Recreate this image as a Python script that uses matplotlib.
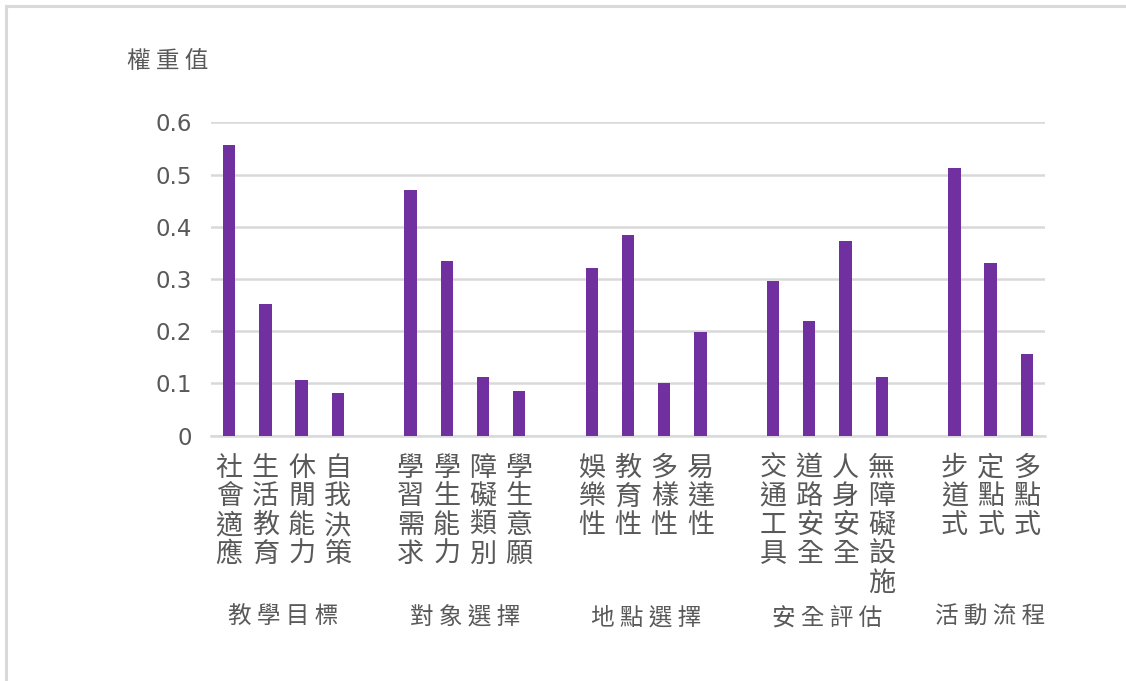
import numpy as np
import matplotlib.pyplot as plt
from matplotlib.lines import Line2D

plt.rcParams['font.family'] = ['Noto Sans CJK TC', 'DejaVu Sans']

groups = ['教學目標', '對象選擇', '地點選擇', '安全評估', '活動流程']
items = [
    ['社會適應', '生活教育', '休閒能力', '自我決策'],
    ['學習需求', '學生能力', '障礙類別', '學生意願'],
    ['娛樂性', '教育性', '多樣性', '易達性'],
    ['交通工具', '道路安全', '人身安全', '無障礙設施'],
    ['步道式', '定點式', '多點式'],
]
values = [
    [0.557, 0.253, 0.106, 0.081],
    [0.470, 0.334, 0.112, 0.086],
    [0.322, 0.384, 0.100, 0.199],
    [0.297, 0.219, 0.372, 0.112],
    [0.513, 0.331, 0.156],
]
yticks = [0, 0.1, 0.2, 0.3, 0.4, 0.5, 0.6]
ylabel = '權重值'

bar_color = '#7030A0'
grid_color = '#D9D9D9'
text_color = '#595959'

fig = plt.figure(figsize=(11.26, 6.81), dpi=100)
ax = fig.add_axes([211 / 1126, 1 - 435.7 / 681, 834 / 1126, 313.4 / 681])

# positions: one empty slot between groups
xs, hs, labs, centers = [], [], [], []
pos = 0
for g, (names, vals) in enumerate(zip(items, values)):
    gx = []
    for n, v in zip(names, vals):
        xs.append(pos)
        hs.append(v)
        labs.append(n)
        gx.append(pos)
        pos += 1
    centers.append(np.mean(gx))
    pos += 1
nslots = pos - 1

ax.bar(xs, hs, width=0.34, color=bar_color, zorder=3)
ax.set_xlim(-0.5, nslots - 0.5)
ax.set_ylim(0, 0.6)
ax.set_yticks(yticks)
ax.set_yticklabels(['0' if t == 0 else f'{t:.1f}' for t in yticks],
                   fontsize=16.5, color=text_color, family='DejaVu Sans')
ax.tick_params(axis='y', length=0, pad=14)
ax.set_xticks([])
ax.grid(axis='y', color=grid_color, linewidth=1.8, zorder=0)
ax.set_axisbelow(True)
for s in ax.spines.values():
    s.set_visible(False)
ax.axhline(0, color=grid_color, linewidth=1.8, zorder=1, clip_on=False)

for x, n in zip(xs, labs):
    ax.annotate('\n'.join(n), xy=(x, 0), xycoords=('data', 'axes fraction'),
                xytext=(0, -19), textcoords='offset pixels',
                ha='center', va='top', fontsize=19.5, color=text_color,
                linespacing=1.08)

for c, g in zip(centers, groups):
    ax.annotate(' '.join(g), xy=(c, 0), xycoords=('data', 'axes fraction'),
                xytext=(0, -182), textcoords='offset pixels',
                ha='center', va='center', fontsize=17, color=text_color)

fig.text(127 / 1126, 1 - 62 / 681, ' '.join(ylabel), ha='left', va='center',
         fontsize=17, color=text_color)

# chart frame (top and left edges visible)
fig.add_artist(Line2D([6 / 1126, 1], [1 - 6 / 681, 1 - 6 / 681],
                      transform=fig.transFigure, color=grid_color, lw=2.2))
fig.add_artist(Line2D([6 / 1126, 6 / 1126], [0, 1 - 6 / 681],
                      transform=fig.transFigure, color=grid_color, lw=2.2))

fig.savefig('out.png', dpi=100)
